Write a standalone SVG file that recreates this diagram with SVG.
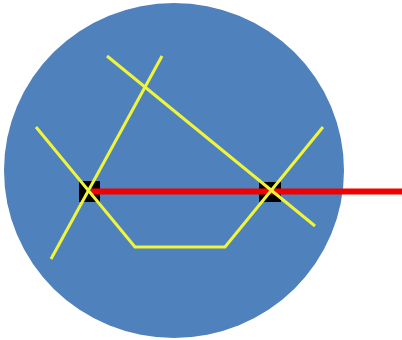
<svg xmlns="http://www.w3.org/2000/svg" width="402" height="340" viewBox="0 0 402 340">
<style>
.yl{fill:none;stroke:#F0F53C;stroke-width:3;stroke-linejoin:miter}
.sq{fill:#000}
</style>
<rect width="402" height="340" fill="#fff"/>
<g id="disc"><ellipse cx="174" cy="170.5" rx="170" ry="167.5" fill="#4F81BD"/></g>
<g id="markers">
<rect class="sq" x="79" y="181" width="21" height="21"/>
<rect class="sq" x="259" y="182" width="22" height="20"/>
</g>
<g id="connectors">
<line x1="91" y1="191.5" x2="402" y2="191.5" stroke="#F00000" stroke-width="6"/>
<polyline class="yl" points="36,127 135,247 225,247 323,127"/>
<line class="yl" x1="51" y1="259" x2="162" y2="56"/>
<line class="yl" x1="107" y1="56" x2="315" y2="226"/>
</g>
</svg>
